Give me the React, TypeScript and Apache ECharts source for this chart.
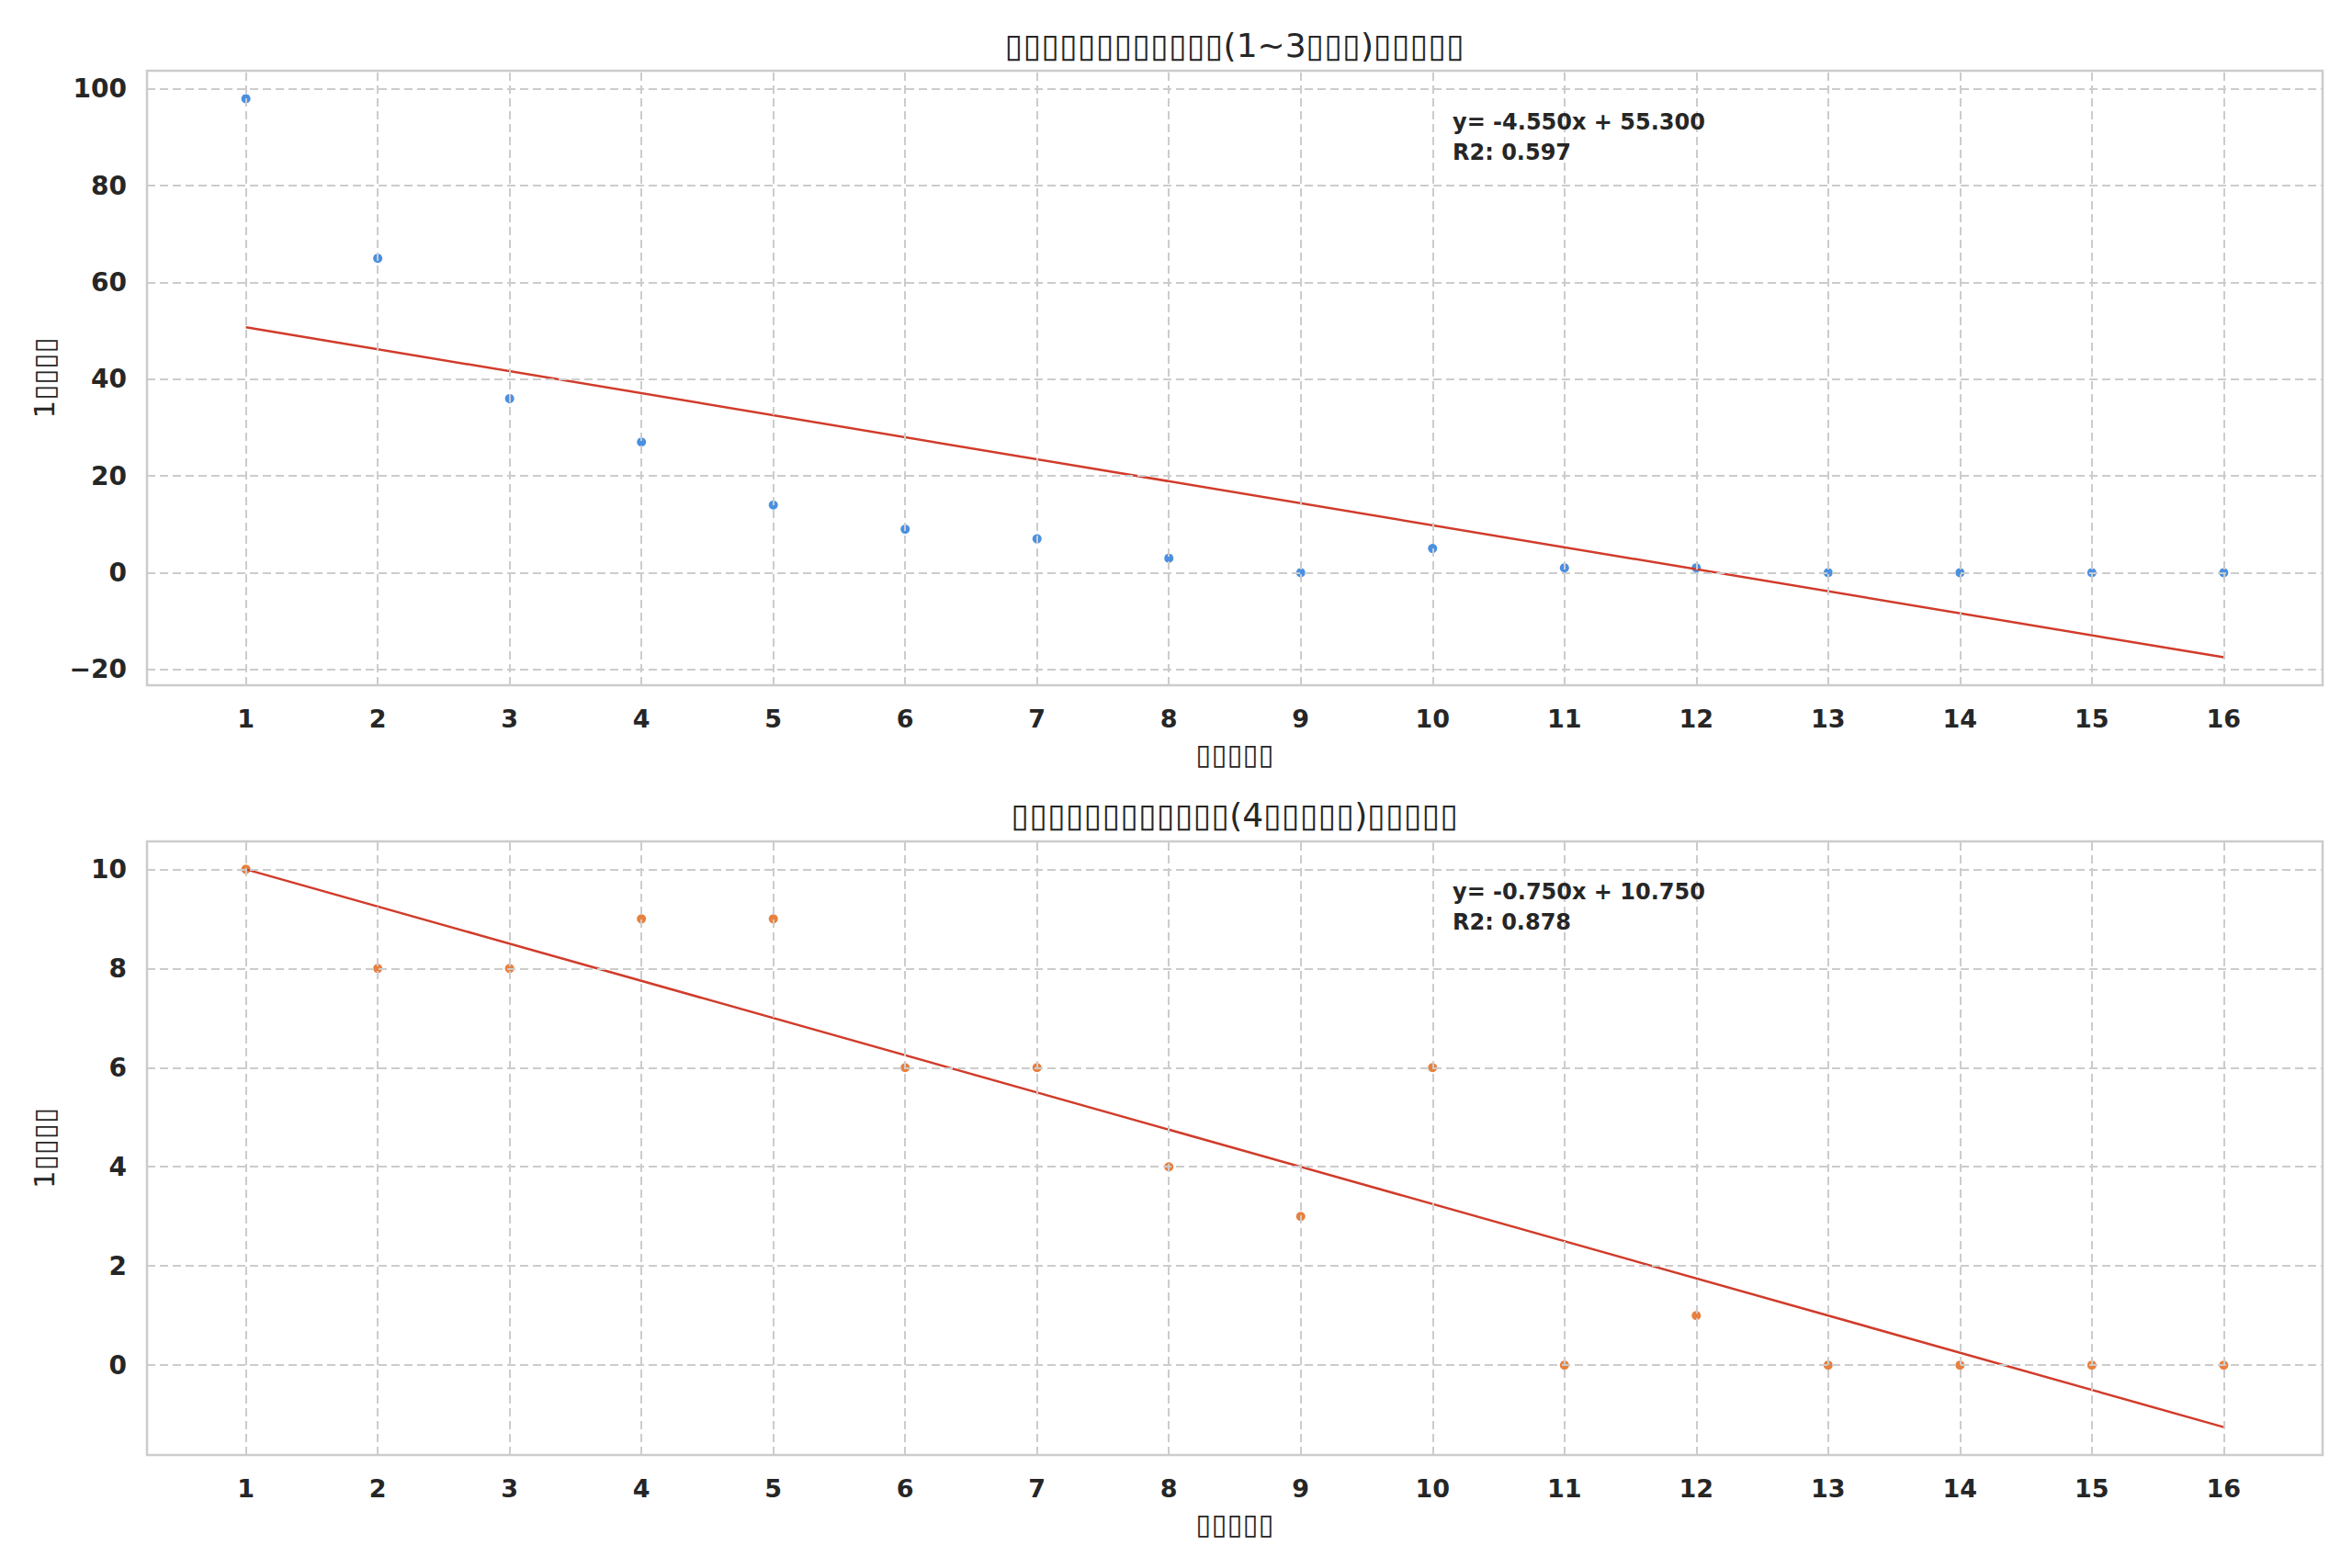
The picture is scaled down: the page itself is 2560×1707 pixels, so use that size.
import React, { useEffect, useRef } from "react";
import * as echarts from "echarts";

const xValues = [1, 2, 3, 4, 5, 6, 7, 8, 9, 10, 11, 12, 13, 14, 15, 16];
const topValues = [98, 65, 36, 27, 14, 9, 7, 3, 0, 5, 1, 1, 0, 0, 0, 0];
const bottomValues = [10, 8, 8, 9, 9, 6, 6, 4, 3, 6, 0, 1, 0, 0, 0, 0];
const topFitX = [1, 16];
const topFitY = [50.75, -17.5];
const bottomFitX = [1, 16];
const bottomFitY = [10.0, -1.25];
const xTicks = [1, 2, 3, 4, 5, 6, 7, 8, 9, 10, 11, 12, 13, 14, 15, 16];
const topYTicks = [-20, 0, 20, 40, 60, 80, 100];
const bottomYTicks = [0, 2, 4, 6, 8, 10];

const topTitle = "▯▯▯▯▯▯▯▯▯▯▯▯(1~3▯▯▯)▯▯▯▯▯";
const bottomTitle = "▯▯▯▯▯▯▯▯▯▯▯▯(4▯▯▯▯▯)▯▯▯▯▯";
const xName = "▯▯▯▯▯";
const yName = "1▯▯▯▯";
const topEq = ["y= -4.550x + 55.300", "R2: 0.597"];
const bottomEq = ["y= -0.750x + 10.750", "R2: 0.878"];

const FONT = "DejaVu Sans";
const TXT = "#262626";
const GRIDC = "#cccccc";

export default function App() {
  const ref = useRef<HTMLDivElement>(null);
  useEffect(() => {
    if (!ref.current) return;
    const chart = echarts.init(ref.current, undefined, { renderer: "svg" });
    const minusFmt = (v: number) => String(v).replace("-", "\u2212");
    const mkX = (gi: number) => ({
      type: "value",
      gridIndex: gi,
      min: 0.25,
      max: 16.75,
      name: xName,
      nameLocation: "middle",
      nameGap: 59,
      nameTextStyle: { fontFamily: FONT, fontSize: 31, color: TXT },
      axisLine: { show: false },
      axisTick: { show: false },
      splitLine: { show: false },
      axisLabel: {
        customValues: xTicks,
        fontFamily: FONT,
        fontWeight: "bold",
        fontSize: 27,
        color: TXT,
        margin: 23,
      },
    });
    const mkY = (gi: number, min: number, max: number, ticks: number[]) => ({
      type: "value",
      gridIndex: gi,
      min,
      max,
      name: yName,
      nameLocation: "middle",
      nameGap: 97,
      nameTextStyle: { fontFamily: FONT, fontSize: 31, color: TXT },
      axisLine: { show: false },
      axisTick: { show: false },
      splitLine: { show: false },
      axisLabel: {
        customValues: ticks,
        formatter: minusFmt,
        fontFamily: FONT,
        fontWeight: "bold",
        fontSize: 28,
        color: TXT,
        margin: 22,
      },
    });
    const gridLines = (gi: number, yt: number[]) => ({
      type: "line",
      xAxisIndex: gi,
      yAxisIndex: gi,
      data: [],
      z: 1,
      silent: true,
      markLine: {
        silent: true,
        symbol: ["none", "none"],
        label: { show: false },
        lineStyle: { type: [9, 5], color: GRIDC, width: 2 },
        data: [
          ...xTicks.map((v) => ({ xAxis: v })),
          ...yt.map((v) => ({ yAxis: v })),
        ],
      },
    });
    const scatter = (gi: number, vals: number[], color: string) => ({
      type: "scatter",
      xAxisIndex: gi,
      yAxisIndex: gi,
      z: 3,
      symbolSize: 10,
      itemStyle: { color, opacity: 1, borderWidth: 0 },
      data: xValues.map((x, i) => [x, vals[i]]),
    });
    const fit = (gi: number, xs: number[], ys: number[]) => ({
      type: "line",
      xAxisIndex: gi,
      yAxisIndex: gi,
      z: 4,
      symbol: "none",
      lineStyle: { color: "#d13b2a", width: 2.5 },
      data: xs.map((x, i) => [x, ys[i]]),
    });
    const eqText = (top: number, lines: string[]) =>
      lines.map((t, i) => ({
        type: "text",
        left: 1581,
        top: top + i * 33,
        z: 10,
        style: {
          text: t,
          fontFamily: FONT,
          fontWeight: "bold",
          fontSize: 24,
          fill: TXT,
        },
      }));
    const titleText = (y: number, t: string) => ({
      type: "text",
      x: 1344,
      y,
      z: 10,
      style: {
        text: t,
        fontFamily: FONT,
        fontSize: 36,
        fill: TXT,
        textAlign: "center",
        textVerticalAlign: "middle",
      },
    });

    chart.setOption({
      animation: false,
      backgroundColor: "#ffffff",
      grid: [
        { left: 160, right: 32, top: 77, height: 669, show: true, borderColor: GRIDC, borderWidth: 2.5, backgroundColor: "transparent" },
        { left: 160, right: 32, top: 916, height: 668, show: true, borderColor: GRIDC, borderWidth: 2.5, backgroundColor: "transparent" },
      ],
      xAxis: [mkX(0), mkX(1)],
      yAxis: [
        mkY(0, -23.275, 103.775, topYTicks),
        mkY(1, -1.8125, 10.5625, bottomYTicks),
      ],
      series: [
        gridLines(0, topYTicks),
        gridLines(1, bottomYTicks),
        scatter(0, topValues, "#4a90e2"),
        scatter(1, bottomValues, "#e8803f"),
        fit(0, topFitX, topFitY),
        fit(1, bottomFitX, bottomFitY),
      ],
      graphic: [
        titleText(49, topTitle),
        titleText(887, bottomTitle),
        ...eqText(121, topEq),
        ...eqText(959, bottomEq),
      ],
    });
    return () => chart.dispose();
  }, []);
  return (
    <div
      ref={ref}
      style={{ position: "fixed", left: 0, top: 0, width: 2560, height: 1707, background: "#fff" }}
    />
  );
}
